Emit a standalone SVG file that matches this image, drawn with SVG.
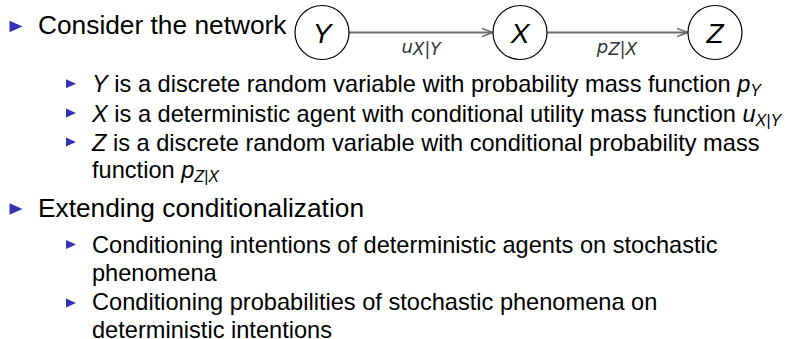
<svg xmlns="http://www.w3.org/2000/svg" width="797" height="339" viewBox="0 0 797 339">
<style>
.main{font-family:"Liberation Sans",Arial,sans-serif;font-size:26.3px;fill:#000}
.sub{font-family:"Liberation Sans",Arial,sans-serif;font-size:23.6px;fill:#000}
.it{font-style:italic}
.sb{font-style:italic;font-size:16px}
.bul{fill:#3333b3}
.node circle{fill:#fff;stroke:#000;stroke-width:1.2}
.node text{font-family:"Liberation Sans",Arial,sans-serif;font-style:italic;font-size:28px;text-anchor:middle;fill:#000}
.edge{stroke:#6e6e6e;stroke-width:2;fill:none}
.elabel{font-family:"DejaVu Sans",sans-serif;font-style:italic;font-size:18px;fill:#333;text-anchor:middle}
</style>
<defs>
<marker id="chev" markerUnits="userSpaceOnUse" markerWidth="14" markerHeight="12" refX="11.5" refY="5" orient="auto" viewBox="0 0 14 10">
<path d="M0.5,1 L11.5,5 L0.5,9" fill="none" stroke="#6e6e6e" stroke-width="1.6"/>
</marker>
</defs>
<!-- main bullet 1 -->
<polygon class="bul" points="9.5,20.8 22.5,26.5 9.5,32.2"/>
<text class="main" x="38" y="34">Consider the network</text>
<g id="connectors">
<line class="edge" x1="349" y1="32.5" x2="493" y2="32.5" marker-end="url(#chev)"/>
<text class="elabel" x="421" y="53">u<tspan font-size="17" dy="1.5">X|Y</tspan></text>
<line class="edge" x1="547" y1="32.5" x2="688" y2="32.5" marker-end="url(#chev)"/>
<text class="elabel" x="617" y="53">p<tspan font-size="17" dy="1.5">Z|X</tspan></text>
</g>
<g id="node-Y" class="node"><circle cx="322" cy="32.5" r="27"/><text x="322" y="42.5">Y</text></g>
<g id="node-X" class="node"><circle cx="520" cy="32.5" r="27"/><text x="520" y="42.5">X</text></g>
<g id="node-Z" class="node"><circle cx="715" cy="32.5" r="27"/><text x="715" y="42.5">Z</text></g>
<!-- sub bullets group 1 -->
<polygon class="bul" points="66,79.3 76,83.8 66,88.3"/>
<text class="sub" x="92" y="92.3"><tspan class="it">Y</tspan> is a discrete random variable with probability mass function <tspan class="it">p</tspan><tspan class="sb" dy="4">Y</tspan></text>
<polygon class="bul" points="66,108.5 76,113 66,117.5"/>
<text class="sub" x="92" y="121.5"><tspan class="it">X</tspan> is a deterministic agent with conditional utility mass function <tspan class="it">u</tspan><tspan class="sb" dy="4">X|Y</tspan></text>
<polygon class="bul" points="66,137.5 76,142 66,146.5"/>
<text class="sub" x="92" y="150.5"><tspan class="it">Z</tspan> is a discrete random variable with conditional probability mass</text>
<text class="sub" x="92" y="178.1">function <tspan class="it">p</tspan><tspan class="sb" dy="4">Z|X</tspan></text>
<!-- main bullet 2 -->
<polygon class="bul" points="9.5,203.3 22.5,209 9.5,214.7"/>
<text class="main" x="38" y="216.7">Extending conditionalization</text>
<polygon class="bul" points="66,240 76,244.5 66,249"/>
<text class="sub" x="92" y="253.3">Conditioning intentions of deterministic agents on stochastic</text>
<text class="sub" x="92" y="280.9">phenomena</text>
<polygon class="bul" points="66,298.5 76,303 66,307.5"/>
<text class="sub" x="92" y="310.3">Conditioning probabilities of stochastic phenomena on</text>
<text class="sub" x="92" y="337.9">deterministic intentions</text>
</svg>
